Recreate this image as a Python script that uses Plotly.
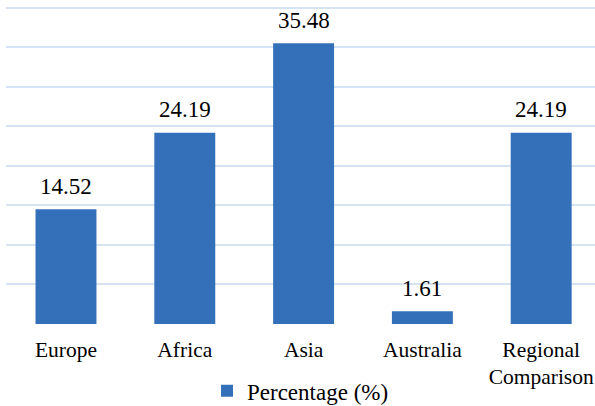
import plotly.graph_objects as go

categories = ["Europe", "Africa", "Asia", "Australia", "Regional<br>Comparison"]
values = [14.52, 24.19, 35.48, 1.61, 24.19]
value_labels = ["14.52", "24.19", "35.48", "1.61", "24.19"]
series_name = "Percentage (%)"

SERIF = "Liberation Serif"

fig = go.Figure()
fig.add_trace(go.Bar(
    x=list(range(len(categories))),
    y=values,
    name=series_name,
    width=0.513,
    marker=dict(color="#3470B9", line=dict(width=0)),
    showlegend=True,
))

for i, (v, t) in enumerate(zip(values, value_labels)):
    fig.add_annotation(
        x=i, y=v, text=t, showarrow=False,
        xanchor="center", yanchor="middle", yshift=23,
        font=dict(family=SERIF, size=23, color="#000000"),
    )

fig.update_layout(
    width=595, height=406,
    margin=dict(l=6, r=0, t=6, b=82, autoexpand=False),
    paper_bgcolor="white", plot_bgcolor="white",
    font=dict(family=SERIF, size=21, color="#000000"),
    xaxis=dict(
        range=[-0.505, 4.453],
        tickmode="array",
        tickvals=list(range(len(categories))),
        ticktext=categories,
        showgrid=False, zeroline=False, showline=False,
        ticks="", ticklen=0, automargin=False,
        ticklabelstandoff=10,
        tickfont=dict(family=SERIF, size=21.5, color="#000000"),
    ),
    yaxis=dict(
        range=[0, 40.2], tickmode="array",
        tickvals=[0, 5, 10, 15, 20, 25, 30, 35, 40],
        showgrid=True, gridcolor="#D6E3F2", gridwidth=1.5,
        zeroline=False, showline=False, showticklabels=False, ticks="",
        automargin=False,
    ),
    legend=dict(
        orientation="h", x=0.5, xanchor="center",
        y=-0.21, yanchor="middle",
        font=dict(family=SERIF, size=23, color="#000000"),
        itemwidth=30,
    ),
)

fig.write_html("out.html")
